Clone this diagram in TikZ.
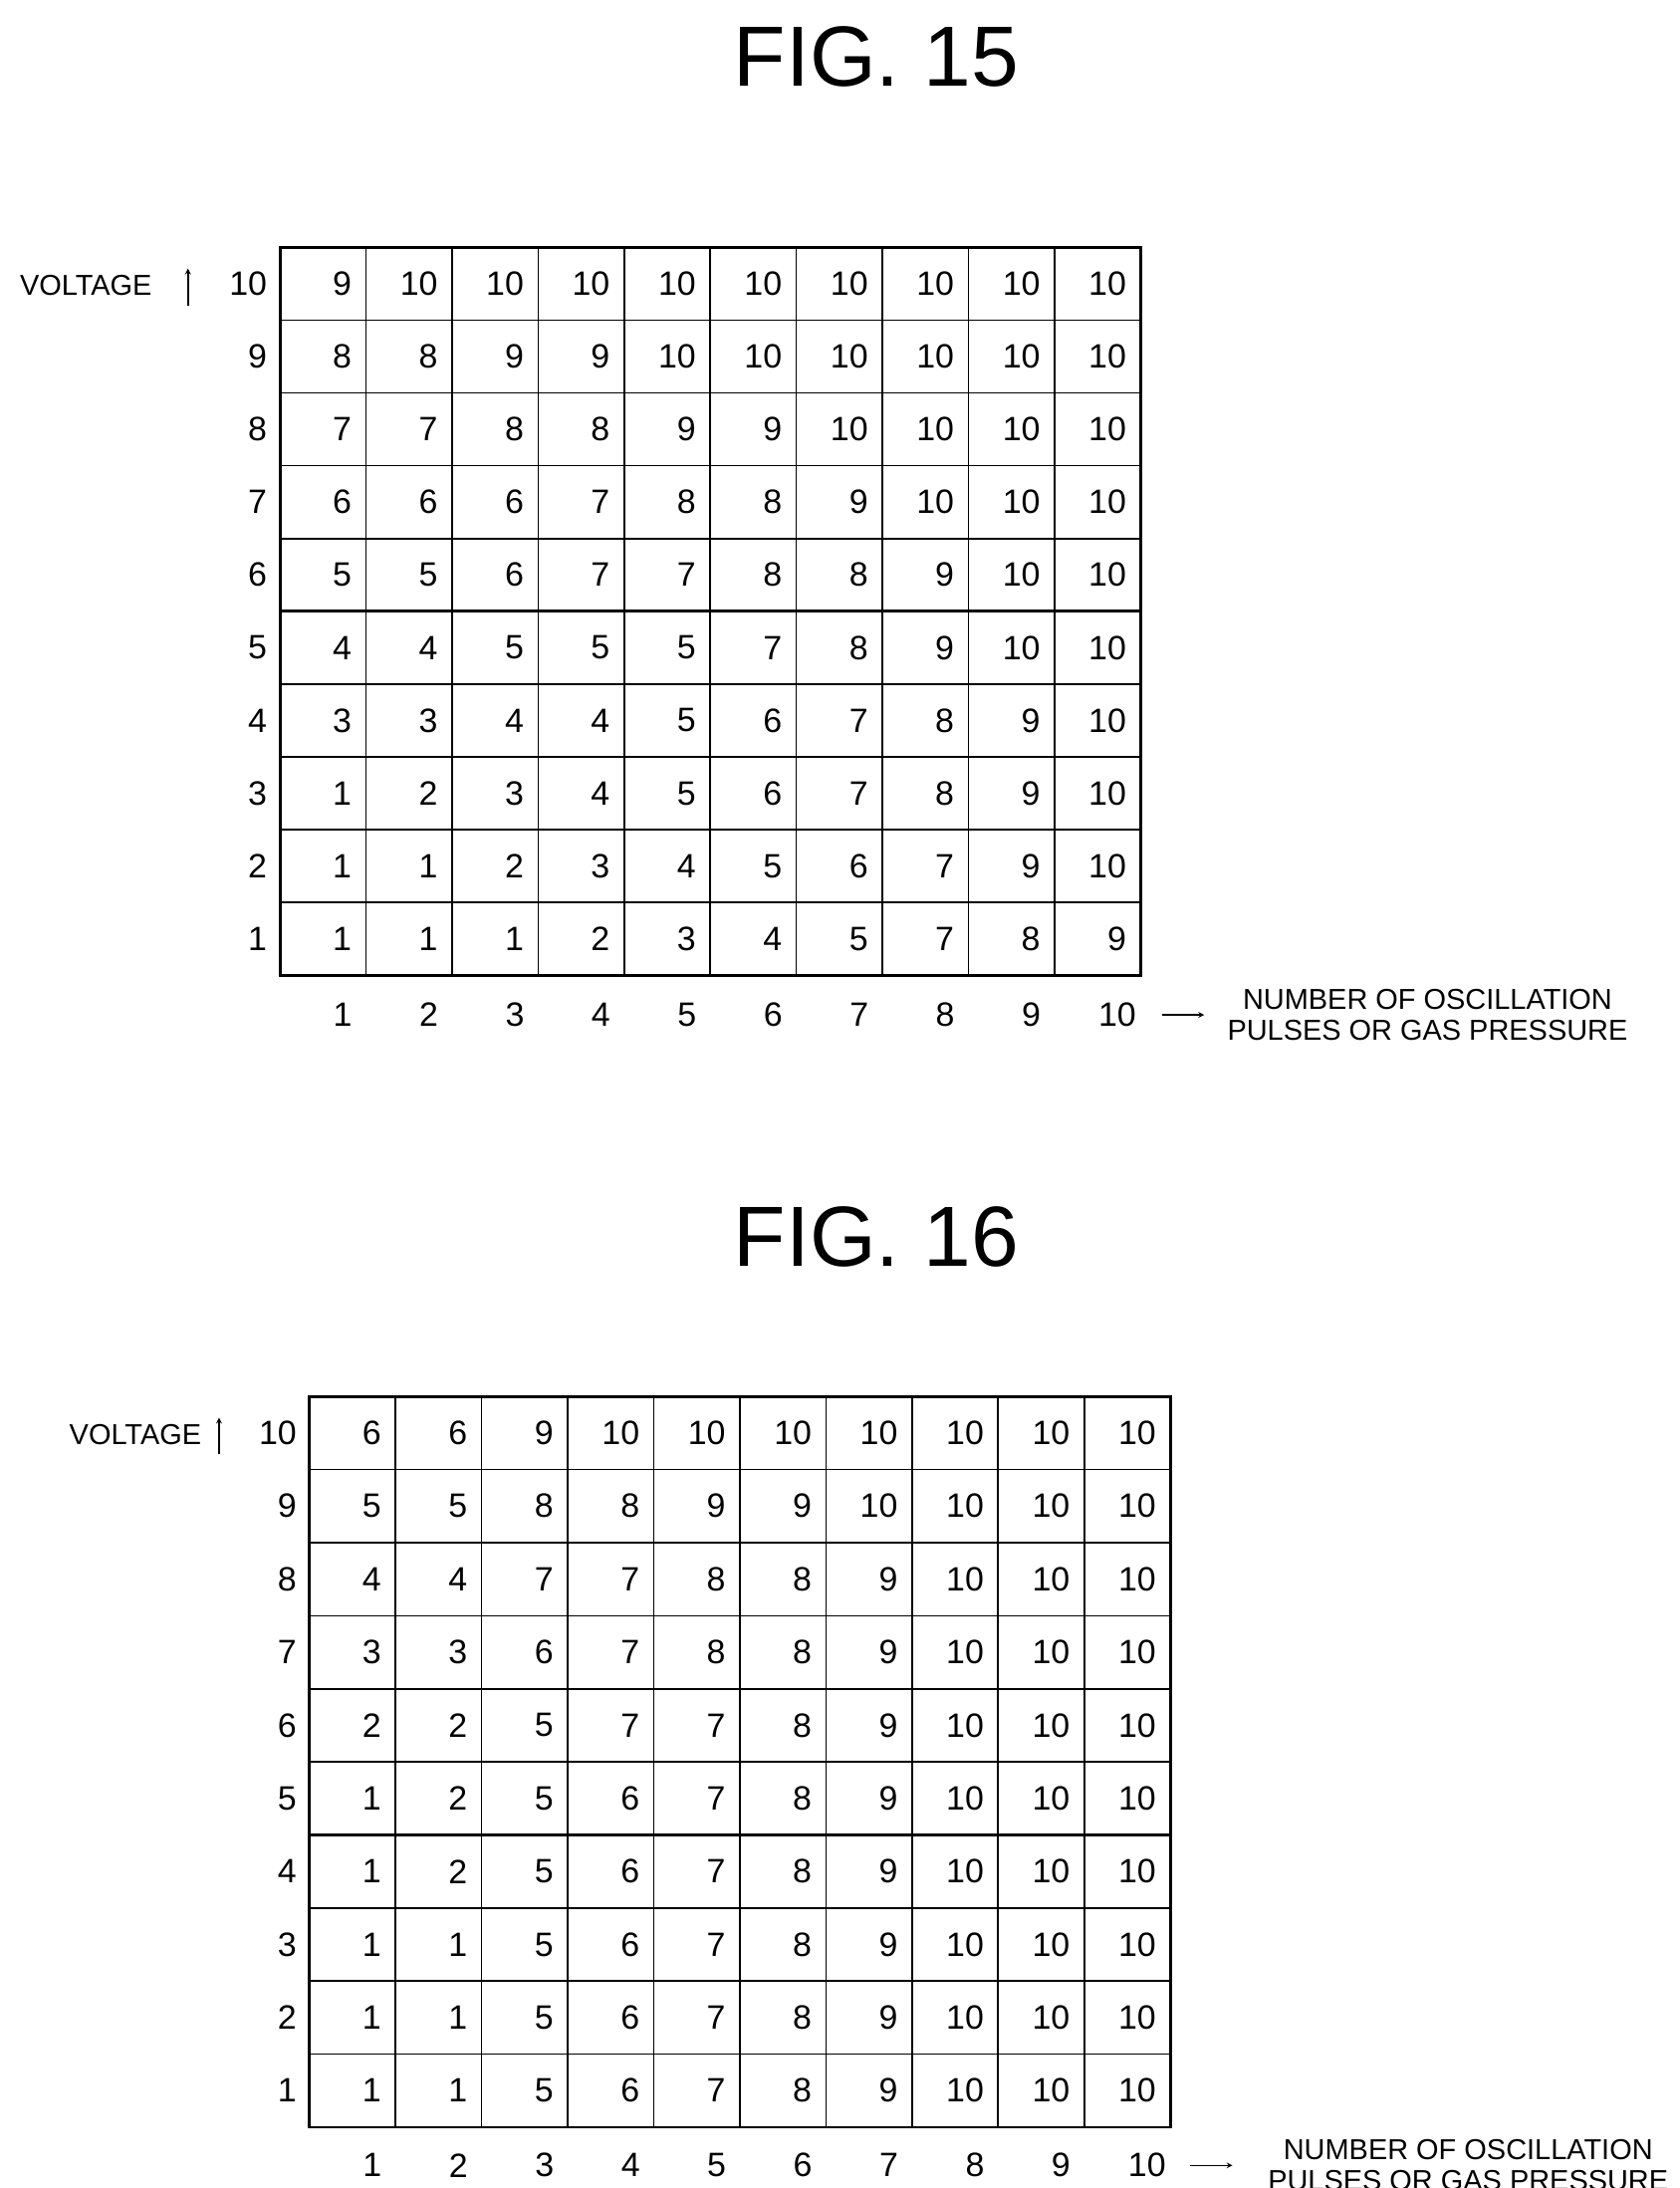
\documentclass[tikz,border=0pt]{standalone}
\usepackage{fontspec}
\setmainfont{Liberation Sans}
\begin{document}
\begin{tikzpicture}[x=0.05cm,y=-0.05cm,
  num/.style={font=\fontsize{34}{34}\selectfont,inner sep=0pt,anchor=east},
  lab/.style={font=\fontsize{29}{31}\selectfont,inner sep=0pt,align=center},
  ttl/.style={font=\fontsize{86}{86}\selectfont,inner sep=0pt},
  grid/.style={line width=1.6pt},
  thick/.style={line width=3pt}]
\useasboundingbox (0,0) rectangle (1188,1548);
\clip (0,0) rectangle (1188,1548);
% ---------- FIG 15
\node[ttl] (t15) at (620,40) {FIG. 15};
\foreach \i in {0,...,10}{
  \draw[grid] ({198+\i*60.9},175) -- ({198+\i*60.9},690);
  \draw[grid] (198,{175+\i*51.5}) -- (807,{175+\i*51.5});}
\draw[thick] (198,432.5) -- (807,432.5);
\draw[thick] (198,175) rectangle (807,690);
\foreach \row [count=\r] in {
 {9,10,10,10,10,10,10,10,10,10},
 {8,8,9,9,10,10,10,10,10,10},
 {7,7,8,8,9,9,10,10,10,10},
 {6,6,6,7,8,8,9,10,10,10},
 {5,5,6,7,7,8,8,9,10,10},
 {4,4,5,5,5,7,8,9,10,10},
 {3,3,4,4,5,6,7,8,9,10},
 {1,2,3,4,5,6,7,8,9,10},
 {1,1,2,3,4,5,6,7,9,10},
 {1,1,1,2,3,4,5,7,8,9}}{
  \foreach \v [count=\c] in \row
    \node[num] (a-\r-\c) at ({198+\c*60.9-10},{175+(\r-0.5)*51.5}) {\v};
  \pgfmathtruncatemacro{\rl}{11-\r}
  \node[num] (ar-\r) at (189,{175+(\r-0.5)*51.5}) {\rl};
}
\foreach \c in {1,...,10}
  \node[num,anchor=center] (ac-\c) at ({198+(\c-0.5)*60.9+14},718) {\c};
\node[lab,anchor=west] (v15) at (14,202) {VOLTAGE};
\coordinate (v15a) at (133,216); \coordinate (v15b) at (133,190);
\draw[line width=1.6pt,-stealth] (v15a) -- (v15b);
\coordinate (h15a) at (822,718); \coordinate (h15b) at (852,718);
\draw[line width=1.6pt,-stealth] (h15a) -- (h15b);
\node[lab] (x15) at (1010,718) {NUMBER OF OSCILLATION\\PULSES OR GAS PRESSURE};
% ---------- FIG 16
\node[ttl] (t16) at (620,875) {FIG. 16};
\foreach \i in {0,...,10}{
  \draw[grid] ({219+\i*60.9},988) -- ({219+\i*60.9},1505);
  \draw[grid] (219,{988+\i*51.7}) -- (828,{988+\i*51.7});}
\draw[thick] (219,1298.2) -- (828,1298.2);
\draw[thick] (219,988) rectangle (828,1505);
\foreach \row [count=\r] in {
 {6,6,9,10,10,10,10,10,10,10},
 {5,5,8,8,9,9,10,10,10,10},
 {4,4,7,7,8,8,9,10,10,10},
 {3,3,6,7,8,8,9,10,10,10},
 {2,2,5,7,7,8,9,10,10,10},
 {1,2,5,6,7,8,9,10,10,10},
 {1,2,5,6,7,8,9,10,10,10},
 {1,1,5,6,7,8,9,10,10,10},
 {1,1,5,6,7,8,9,10,10,10},
 {1,1,5,6,7,8,9,10,10,10}}{
  \foreach \v [count=\c] in \row
    \node[num] (b-\r-\c) at ({219+\c*60.9-10},{988+(\r-0.5)*51.7}) {\v};
  \pgfmathtruncatemacro{\rl}{11-\r}
  \node[num] (br-\r) at (210,{988+(\r-0.5)*51.7}) {\rl};
}
\foreach \c in {1,...,10}
  \node[num,anchor=center] (bc-\c) at ({219+(\c-0.5)*60.9+14},1532) {\c};
\node[lab,anchor=west] (v16) at (49,1015) {VOLTAGE};
\coordinate (v16a) at (155,1029); \coordinate (v16b) at (155,1003);
\draw[line width=1.6pt,-stealth] (v16a) -- (v16b);
\coordinate (h16a) at (842,1532); \coordinate (h16b) at (872,1532);
\draw[line width=1.6pt,-stealth] (h16a) -- (h16b);
\node[lab,anchor=west] (x16) at (897,1532) {NUMBER OF OSCILLATION\\PULSES OR GAS PRESSURE};
\end{tikzpicture}
\end{document}
